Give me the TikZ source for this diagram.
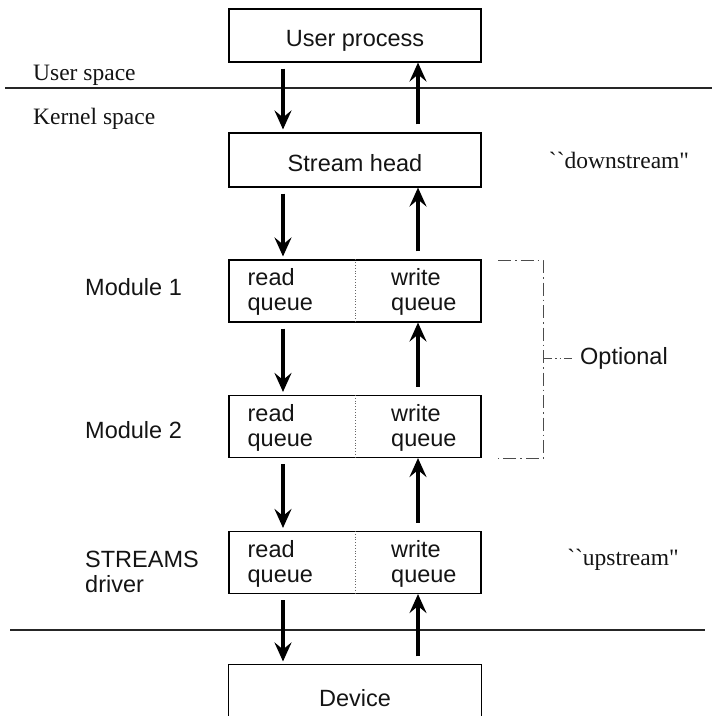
\documentclass[tikz,border=0pt]{standalone}
\usepackage{fontspec}
\setmainfont{Liberation Serif}
\newfontfamily\hvsans{Liberation Sans}
% plain serif family without TeX ligatures, so `` stays as two grave accents
\newfontfamily\tmsplain{Liberation Serif}
\usetikzlibrary{arrows.meta}

\begin{document}
\begin{tikzpicture}[x=1pt, y=-1pt,
  box/.style={draw, line width=1.1pt, minimum width=252pt, inner sep=0pt},
  boxtext/.style={inner sep=0pt, anchor=center,
    font=\hvsans\fontsize{23.5}{26}\selectfont, text=black!92},
  qtext/.style={inner sep=0pt, align=left, anchor=north west,
    font=\hvsans\fontsize{23.5}{25}\selectfont, text=black!92},
  side/.style={inner sep=0pt, align=left, anchor=base west,
    font=\hvsans\fontsize{23.5}{25}\selectfont, text=black!92},
  serifl/.style={inner sep=0pt, anchor=base west,
    font=\fontsize{23.5}{26}\selectfont, text=black!92},
  quoted/.style={inner sep=0pt, anchor=base,
    font=\tmsplain\fontsize{23.5}{26}\selectfont, text=black!92},
  divider/.style={line width=0.8pt, dotted, black!60},
  sep/.style={line width=1.2pt, black!85},
  bracket/.style={line width=1pt, black!70, dash pattern=on 13pt off 4pt on 1.5pt off 4pt},
  flowtip/.style={-{Stealth[length=19pt, width=17pt, inset=7pt]}},
  down/.style={line width=3.6pt, flowtip, shorten <=6pt, shorten >=3pt},
  up/.style={line width=3.6pt, flowtip, shorten <=8pt}
]
\useasboundingbox (0,0) rectangle (712,716);
\clip (0,0) rectangle (712,716);

% arrow columns
\coordinate (lx) at (283,0);
\coordinate (rx) at (418,0);

% boxes
\node[box, minimum height=53pt] (uproc) at (355,35.5) {};
\node[box, minimum height=54pt] (shead) at (355,160) {};
\node[box, minimum height=62pt] (mod1) at (355,291) {};
\node[box, minimum height=62pt] (mod2) at (355,426.5) {};
\node[box, minimum height=62pt] (drv)  at (355,562.5) {};
\node[box, draw=none, minimum height=60pt] (dev) at (355,695) {};
\draw[line width=1.1pt] (dev.south west) |- (dev.north east) -- (dev.south east);

\node[boxtext] (uproc-t) at ([yshift=-5pt]uproc.center) {User process};
\node[boxtext] (shead-t) at ([yshift=-3pt]shead.center) {Stream head};
\node[boxtext] (dev-t)   at ([yshift=-3pt]dev.center) {Device};

% queue halves
\foreach \m in {mod1,mod2,drv}{
  \draw[divider] (\m.north) -- (\m.south);
  \node[qtext] (\m-r) at ([xshift=19pt,yshift=-9pt]\m.north west) {read\\queue};
  \node[qtext] (\m-w) at ([xshift=36pt,yshift=-9pt]\m.north) {write\\queue};
}

% space separators
\coordinate (usl) at (5,88);
\coordinate (usr) at (712,88);
\coordinate (dvl) at (10,630);
\coordinate (dvr) at (705,630);
\draw[sep] (usl) -- (usr);
\draw[sep] (dvl) -- (dvr);

\node[serifl] (uspace) at (33,80) {User space};
\node[serifl] (kspace) at (33,124) {Kernel space};

% side labels
\node[side] (l1) at (85,295) {Module 1};
\node[side] (l2) at (85,438) {Module 2};
\node[side] (l3) at (85,592) {STREAMS\\driver};

\node[quoted] (dn) at (619,168) {``downstream"};
\node[quoted] (upq) at (623,565) {``upstream"};

% flow arrows
\draw[down] (uproc.south -| lx) -- (shead.north -| lx);
\draw[up]   (shead.north -| rx) -- (uproc.south -| rx);
\draw[down] (shead.south -| lx) -- (mod1.north -| lx);
\draw[up]   (mod1.north -| rx) -- (shead.south -| rx);
\draw[down] (mod1.south -| lx) -- (mod2.north -| lx);
\draw[up]   (mod2.north -| rx) -- (mod1.south -| rx);
\draw[down] (mod2.south -| lx) -- (drv.north -| lx);
\draw[up]   (drv.north -| rx) -- (mod2.south -| rx);
\draw[down] (drv.south -| lx) -- (dev.north -| lx);
\draw[up]   (dev.north -| rx) -- (drv.south -| rx);

% optional-module bracket
\coordinate (bt) at (498,260);
\coordinate (bb) at (498,458);
\coordinate (bx) at (543,0);
\coordinate (bm) at (543,358);
\coordinate (be) at (572,358);
\draw[bracket] (bt) -- (bt -| bx) -- (bb -| bx) -- (bb);
\draw[line width=1pt, black!70, dash pattern=on 9pt off 3pt on 1.5pt off 3pt on 1.5pt off 3pt]
  (bm) -- (be);
\node[inner sep=0pt, anchor=west, font=\hvsans\fontsize{23.5}{26}\selectfont, text=black!92]
  (opt) at (580,358) {Optional};
\end{tikzpicture}
\end{document}
